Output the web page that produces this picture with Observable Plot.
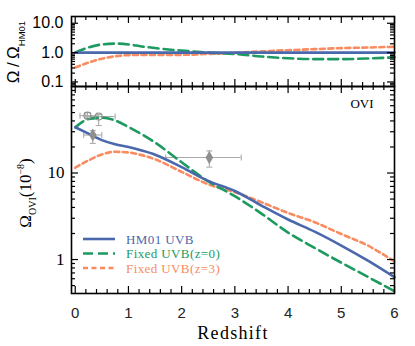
<!DOCTYPE html>
<html><head><meta charset="utf-8">
<script src="https://cdn.jsdelivr.net/npm/d3@7"></script>
<script src="https://cdn.jsdelivr.net/npm/@observablehq/plot@0.6"></script>
<style>
body{margin:0;background:#fff;}
#chart{position:relative;width:415px;height:346px;background:#fff;}
#chart svg{position:absolute;left:0;overflow:visible;background:none;}
</style></head><body><div id="chart"></div>
<script>
// ---------- data ----------
const redshift = [0, 0.25, 0.5, 0.75, 1, 1.25, 1.5, 2, 2.5, 3, 3.5, 4, 4.5, 5, 5.5, 6];
const omegaHM01 = [33.8, 28.5, 24, 21.5, 20, 18.2, 16.3, 11.7, 8.1, 6.2, 4.2, 2.9, 2.1, 1.45, 0.97, 0.625];
const omegaFixedZ0 = [33.8, 42, 43.5, 40.5, 34, 28, 22.5, 13.3, 8.0, 5.4, 3.4, 2.05, 1.36, 0.92, 0.63, 0.43];
const omegaFixedZ3 = [11.5, 14, 16.4, 17.6, 17.3, 16.1, 14.4, 10.3, 7.4, 6.0, 4.6, 3.45, 2.7, 1.97, 1.45, 0.95];

const ratioRedshift = [0, 0.25, 0.5, 0.75, 1, 1.25, 1.5, 1.75, 2, 2.5, 3, 3.5, 4, 4.5, 5, 5.5, 6];
const ratioHM01 = [1, 1, 1, 1, 1, 1, 1, 1, 1, 1, 1, 1, 1, 1, 1, 1, 1];
const ratioFixedZ0 = [1.0, 1.5, 1.9, 2.03, 1.9, 1.62, 1.43, 1.28, 1.17, 1.0, 0.9, 0.74, 0.64, 0.6, 0.6, 0.63, 0.69];
const ratioFixedZ3 = [0.31, 0.46, 0.62, 0.75, 0.82, 0.83, 0.83, 0.84, 0.84, 0.9, 0.98, 1.1, 1.21, 1.31, 1.42, 1.49, 1.58];

const obsZ = [0.23, 0.44, 0.33, 2.52];
const obsZLow = [0.09, 0.2, 0.16, 1.7];
const obsZHigh = [0.41, 0.75, 0.5, 3.12];
const obsOmega = [46, 45, 27.5, 15.1];
const obsOmegaLow = [42.7, 35.4, 22, 11.7];
const obsOmegaHigh = [50, 47.5, 31, 18];
const obsFilled = [false, false, true, true];

const seriesNames = ["HM01 UVB", "Fixed UVB(z=0)", "Fixed UVB(z=3)"];
const seriesColors = ["#4a68ac", "#1c9a5f", "#f98b60"];
const seriesDash = [null, "10,5", "5,3.5"];

const xTicks = [0, 1, 2, 3, 4, 5, 6];
const ratioTicks = [0.1, 1, 10];
const omegaTicks = [1, 10];
const panelLabel = "OVI";
const xLabel = "Redshift";

// ---------- layout ----------
const W = 415, ML = 71, MR = 21, FW = W - ML - MR;
const TOP_H = 86, TOP_MT = 16, TOP_FH = TOP_H - TOP_MT;
const BOT_H = 260, BOT_MB = 53, BOT_FH = BOT_H - BOT_MB;
const xDomain = [-0.07, 6];
const ratioDomain = [0.07, 17];
const omegaDomain = [0.405, 100];
const MAJ = 7, MIN = 4;

const xMinor = d3.range(0, 31).map(i => i / 5).filter(v => Math.abs(v - Math.round(v)) > 1e-6);
function logMinor([lo, hi]) {
  const out = [];
  for (let k = Math.floor(Math.log10(lo)); k <= Math.ceil(Math.log10(hi)); k++)
    for (let m = 2; m <= 9; m++) { const v = m * 10 ** k; if (v > lo && v < hi) out.push(v); }
  return out;
}

function tickMarks(fh, yMajor, yMinor) {
  const s = {stroke: "#000", strokeWidth: 1.2};
  return [
    Plot.tickX(xTicks, {x: d => d, insetTop: fh - MAJ, ...s}),
    Plot.tickX(xMinor, {x: d => d, insetTop: fh - MIN, ...s}),
    Plot.tickX(xTicks, {x: d => d, insetBottom: fh - MAJ, ...s}),
    Plot.tickX(xMinor, {x: d => d, insetBottom: fh - MIN, ...s}),
    Plot.tickY(yMajor, {y: d => d, insetRight: FW - MAJ, ...s}),
    Plot.tickY(yMinor, {y: d => d, insetRight: FW - MIN, ...s}),
    Plot.tickY(yMajor, {y: d => d, insetLeft: FW - MAJ, ...s}),
    Plot.tickY(yMinor, {y: d => d, insetLeft: FW - MIN, ...s})
  ];
}

function seriesTable(zs, arrays) {
  return arrays.flatMap((arr, i) => arr.map((v, j) => ({z: zs[j], v, s: i})));
}
function lineMarks(table, w) {
  return [2, 1, 0].map(i => Plot.line(table.filter(d => d.s === i), {
    x: "z", y: "v", stroke: seriesColors[i], strokeWidth: w,
    strokeDasharray: seriesDash[i], curve: "monotone-x"
  }));
}

const chartDiv = document.getElementById("chart");

// ---------- top panel (ratio) ----------
const ratioTable = seriesTable(ratioRedshift, [ratioHM01, ratioFixedZ0, ratioFixedZ3]);
const topSvg = Plot.plot({
  width: W, height: TOP_H,
  marginLeft: ML, marginRight: MR, marginTop: TOP_MT, marginBottom: 0,
  x: {domain: xDomain, axis: null},
  y: {type: "log", domain: ratioDomain, axis: null},
  marks: [
    ...lineMarks(ratioTable, 2.6),
    ...tickMarks(TOP_FH, ratioTicks, logMinor(ratioDomain)),
    Plot.text(ratioTicks, {y: d => d, text: d => d.toFixed(1), frameAnchor: "left", dx: -8,
      textAnchor: "end", fontSize: 16, fontFamily: "Liberation Sans", fill: "#000"}),
    Plot.frame({stroke: "#000", strokeWidth: 1.6})
  ]
});
topSvg.style.top = "0px";
chartDiv.appendChild(topSvg);

const tl = d3.select(topSvg).append("text")
  .attr("transform", "translate(19,52) rotate(-90)")
  .attr("text-anchor", "middle")
  .style("font-family", "Liberation Sans").style("font-size", "17px").attr("fill", "#000");
tl.append("tspan").text("Ω\u2009/\u2009Ω");
tl.append("tspan").attr("dy", 6).style("font-size", "9.5px").text("HM01");

// ---------- bottom panel (Omega OVI) ----------
const omegaTable = seriesTable(redshift, [omegaHM01, omegaFixedZ0, omegaFixedZ3]);
const obs = obsZ.map((z, i) => ({z, zl: obsZLow[i], zh: obsZHigh[i], v: obsOmega[i],
  vl: obsOmegaLow[i], vh: obsOmegaHigh[i], filled: obsFilled[i]}));
const capV = {draw(ctx, size) { const r = Math.sqrt(size / Math.PI); ctx.moveTo(0, -r); ctx.lineTo(0, r); }};
const capH = {draw(ctx, size) { const r = Math.sqrt(size / Math.PI); ctx.moveTo(-r, 0); ctx.lineTo(r, 0); }};
const gray = "#8f8f8f", lgray = "#ababab";

const botSvg = Plot.plot({
  width: W, height: BOT_H,
  marginLeft: ML, marginRight: MR, marginTop: 0, marginBottom: BOT_MB,
  x: {domain: xDomain, axis: null},
  y: {type: "log", domain: omegaDomain, axis: null},
  marks: [
    Plot.ruleY(obs, {y: "v", x1: "zl", x2: "zh", stroke: lgray, strokeWidth: 1.1}),
    Plot.ruleX(obs, {x: "z", y1: "vl", y2: "vh", stroke: lgray, strokeWidth: 1.1}),
    Plot.dot(obs, {x: "zl", y: "v", symbol: capV, r: 3, stroke: lgray, strokeWidth: 1.1}),
    Plot.dot(obs, {x: "zh", y: "v", symbol: capV, r: 3, stroke: lgray, strokeWidth: 1.1}),
    Plot.dot(obs, {x: "z", y: "vl", symbol: capH, r: 3, stroke: lgray, strokeWidth: 1.1}),
    Plot.dot(obs, {x: "z", y: "vh", symbol: capH, r: 3, stroke: lgray, strokeWidth: 1.1}),
    ...lineMarks(omegaTable, 2.6),
    Plot.dot(obs.filter(d => !d.filled), {x: "z", y: "v", r: 3.5, stroke: gray, strokeWidth: 1.2, fill: "none"}),
    Plot.dot(obs.filter(d => d.filled), {x: "z", y: "v", r: 4, symbol: "diamond", fill: gray}),
    ...tickMarks(BOT_FH, omegaTicks, logMinor(omegaDomain)),
    Plot.text(omegaTicks, {y: d => d, text: d => String(d), frameAnchor: "left", dx: -7,
      textAnchor: "end", fontSize: 17, fontFamily: "Liberation Serif", fill: "#000"}),
    Plot.text(xTicks, {x: d => d, text: d => String(d), frameAnchor: "bottom", dy: 20,
      lineAnchor: "middle", fontSize: 15, fontFamily: "Liberation Sans", fill: "#222"}),
    Plot.text([xLabel], {text: d => d, frameAnchor: "bottom", dy: 40, lineAnchor: "middle",
      fontSize: 18, fontFamily: "Liberation Serif", fill: "#000"}),
    Plot.text([panelLabel], {text: d => d, frameAnchor: "top-right", dx: -21, dy: 17,
      textAnchor: "end", lineAnchor: "middle", fontSize: 13, fontFamily: "Liberation Serif", fill: "#000"}),
    Plot.frame({stroke: "#000", strokeWidth: 1.6})
  ]
});
botSvg.style.top = TOP_H + "px";
chartDiv.appendChild(botSvg);

// widen the x title a little like the reference's wide lettering
d3.select(botSvg).selectAll("text").filter(function() { return this.textContent === xLabel; })
  .style("letter-spacing", "1.3px");

const bl = d3.select(botSvg).append("text")
  .attr("transform", "translate(31,107) rotate(-90)")
  .attr("text-anchor", "middle")
  .style("font-family", "Liberation Serif").style("font-size", "17px").attr("fill", "#000");
bl.append("tspan").text("Ω");
bl.append("tspan").attr("dy", 5).style("font-size", "10px").text("OVI");
bl.append("tspan").attr("dy", -5).text("(10");
bl.append("tspan").attr("dy", -7).style("font-size", "10px").text("−8");
bl.append("tspan").attr("dy", 7).text(")");

// legend
const lg = d3.select(botSvg).append("g").attr("text-anchor", "start");
seriesNames.forEach((name, i) => {
  const y = 153 + i * 14.5;
  lg.append("line").attr("x1", 83).attr("x2", 115).attr("y1", y).attr("y2", y)
    .attr("stroke", seriesColors[i]).attr("stroke-width", 2.6)
    .attr("stroke-dasharray", seriesDash[i]);
  lg.append("text").attr("x", 126).attr("y", y).attr("dy", "0.35em")
    .attr("text-anchor", "start")
    .style("font-family", "Liberation Serif").style("font-size", "13px")
    .style("letter-spacing", "0.4px").attr("fill", seriesColors[i]).text(name);
});
</script></body></html>
